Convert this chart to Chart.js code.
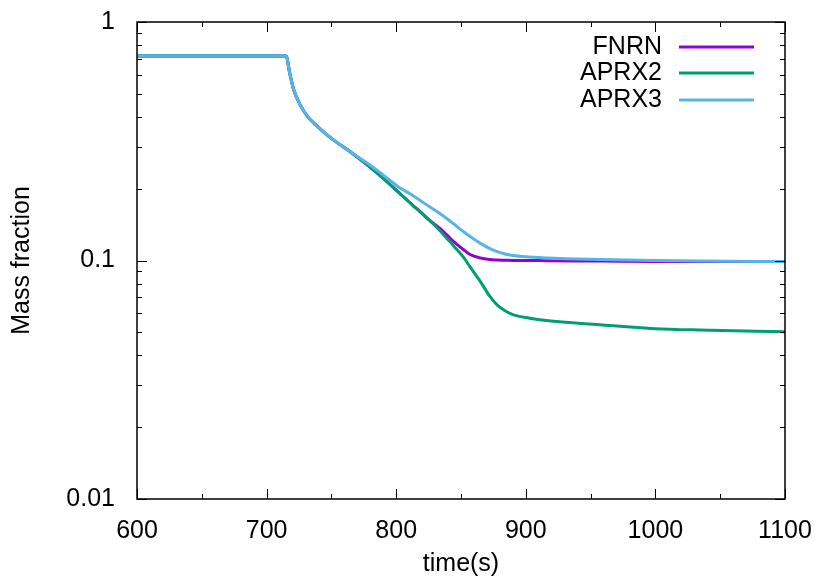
<!DOCTYPE html>
<html>
<head>
<meta charset="utf-8">
<script src="https://cdn.jsdelivr.net/npm/chart.js@4.4.1/dist/chart.umd.min.js"></script>
<style>
  html, body { margin: 0; padding: 0; background: #fff; }
  #wrap { width: 830px; height: 579px; }
</style>
</head>
<body>
<div id="wrap"><canvas id="massChart" width="830" height="579"></canvas></div>
<script>
// time axis (s)
var times = [600, 650, 700, 712, 715, 718, 721, 726, 732, 739, 745, 751, 764, 780, 790, 801,
             813, 818, 826, 834, 839, 845, 852, 857, 865, 872, 878, 884, 890, 903, 916, 957,
             1000, 1034, 1100];

var fnrn  = [0.72, 0.72, 0.72, 0.72, 0.72, 0.605, 0.518, 0.448, 0.399, 0.366, 0.342, 0.322, 0.287, 0.246, 0.221, 0.195,
             0.170, 0.161, 0.147, 0.136, 0.128, 0.119, 0.111, 0.106, 0.1025, 0.101, 0.1005, 0.1003, 0.1001, 0.1, 0.0998, 0.0995,
             0.099, 0.099, 0.099];

var aprx2 = [0.72, 0.72, 0.72, 0.72, 0.72, 0.605, 0.518, 0.448, 0.399, 0.366, 0.342, 0.322, 0.287, 0.246, 0.221, 0.195,
             0.170, 0.161, 0.147, 0.133, 0.124, 0.114, 0.103, 0.094, 0.0816, 0.071, 0.065, 0.0616, 0.0593, 0.0573, 0.056, 0.0538,
             0.0518, 0.0511, 0.0503];

var aprx3 = [0.72, 0.72, 0.72, 0.72, 0.72, 0.605, 0.518, 0.448, 0.399, 0.366, 0.342, 0.322, 0.287, 0.251, 0.228, 0.205,
             0.187, 0.1795, 0.1675, 0.157, 0.150, 0.1415, 0.132, 0.126, 0.118, 0.1125, 0.109, 0.1065, 0.105, 0.1035, 0.1025, 0.101,
             0.100, 0.0995, 0.099];

var seriesNames  = ['FNRN', 'APRX2', 'APRX3'];
var seriesColors = ['#9400d3', '#009e73', '#56b4e9'];
var xMajor = [600, 700, 800, 900, 1000, 1100];
var yMajor = [0.01, 0.1, 1];
var yLabels = ['0.01', '0.1', '1'];

var FONT = '"Liberation Sans", Arial, sans-serif';

function pts(vals) {
  return times.map(function (t, i) { return { x: t, y: vals[i] }; });
}

// frame, inward ticks on all four sides, and gnuplot style key
var frameTicks = {
  id: 'frameTicks',
  afterDatasetsDraw: function (chart) {
    var ctx = chart.ctx, a = chart.chartArea;
    var xs = chart.scales.x, ys = chart.scales.y;
    ctx.save();
    ctx.strokeStyle = '#000';
    ctx.lineWidth = 1;
    ctx.beginPath();
    var t;
    for (t = 600; t <= 1100; t += 50) {
      var px = Math.round(xs.getPixelForValue(t)) + 0.5;
      var len = (t % 100 === 0) ? 10 : 5;
      ctx.moveTo(px, a.bottom); ctx.lineTo(px, a.bottom - len);
      ctx.moveTo(px, a.top); ctx.lineTo(px, a.top + len);
    }
    for (var d = 0.01; d < 1.5; d *= 10) {
      for (var m = 1; m <= 9; m++) {
        var v = d * m;
        if (v > 1.0001) break;
        var py = Math.round(ys.getPixelForValue(v)) + 0.5;
        var l = (m === 1) ? 10 : 5;
        ctx.moveTo(a.left, py); ctx.lineTo(a.left + l, py);
        ctx.moveTo(a.right, py); ctx.lineTo(a.right - l, py);
      }
    }
    ctx.stroke();
    ctx.lineWidth = 1.5;
    ctx.strokeRect(a.left, a.top, a.right - a.left, a.bottom - a.top);

    // key
    ctx.font = '25px ' + FONT;
    ctx.textAlign = 'right';
    ctx.textBaseline = 'middle';
    var rows = [47, 73, 100];
    for (var i = 0; i < seriesNames.length; i++) {
      ctx.fillStyle = '#000';
      ctx.fillText(seriesNames[i], 662, rows[i]);
      ctx.strokeStyle = seriesColors[i];
      ctx.lineWidth = 3;
      ctx.beginPath();
      ctx.moveTo(679, rows[i]); ctx.lineTo(754, rows[i]);
      ctx.stroke();
    }
    ctx.restore();
  }
};

var ctx = document.getElementById('massChart').getContext('2d');
var myChart = new Chart(ctx, {
  type: 'line',
  data: {
    datasets: [0, 1, 2].map(function (i) {
      return {
        label: seriesNames[i],
        data: pts([fnrn, aprx2, aprx3][i]),
        borderColor: seriesColors[i],
        backgroundColor: seriesColors[i],
        borderWidth: 3,
        pointRadius: 0,
        cubicInterpolationMode: 'monotone',
        order: 2 - i
      };
    })
  },
  options: {
    responsive: false,
    animation: false,
    layout: { padding: { top: 22, right: 45, left: 0, bottom: 0 } },
    plugins: {
      legend: { display: false },
      tooltip: { enabled: false }
    },
    scales: {
      x: {
        type: 'linear',
        min: 600,
        max: 1100,
        afterBuildTicks: function (s) { s.ticks = xMajor.map(function (v) { return { value: v }; }); },
        afterFit: function (s) { s.height = 80; s.paddingLeft = 0; s.paddingRight = 0; },
        grid: { display: false },
        border: { display: false },
        ticks: {
          color: '#000', font: { family: FONT, size: 25 }, padding: 9, maxRotation: 0,
          callback: function (v) { return String(v); }
        },
        title: { display: true, text: 'time(s)', color: '#000', font: { family: FONT, size: 25 }, padding: 0 }
      },
      y: {
        type: 'logarithmic',
        min: 0.01,
        max: 1,
        afterBuildTicks: function (s) { s.ticks = yMajor.map(function (v) { return { value: v }; }); },
        afterFit: function (s) { s.width = 137; s.paddingTop = 0; s.paddingBottom = 0; },
        grid: { display: false },
        border: { display: false },
        ticks: {
          color: '#000', font: { family: FONT, size: 25 }, padding: 14,
          callback: function (v) { var k = yMajor.indexOf(v); return k >= 0 ? yLabels[k] : ''; }
        },
        title: { display: true, text: 'Mass fraction', color: '#000', font: { family: FONT, size: 25 }, padding: { top: 7, bottom: 0 } }
      }
    }
  },
  plugins: [frameTicks]
});
</script>
</body>
</html>
